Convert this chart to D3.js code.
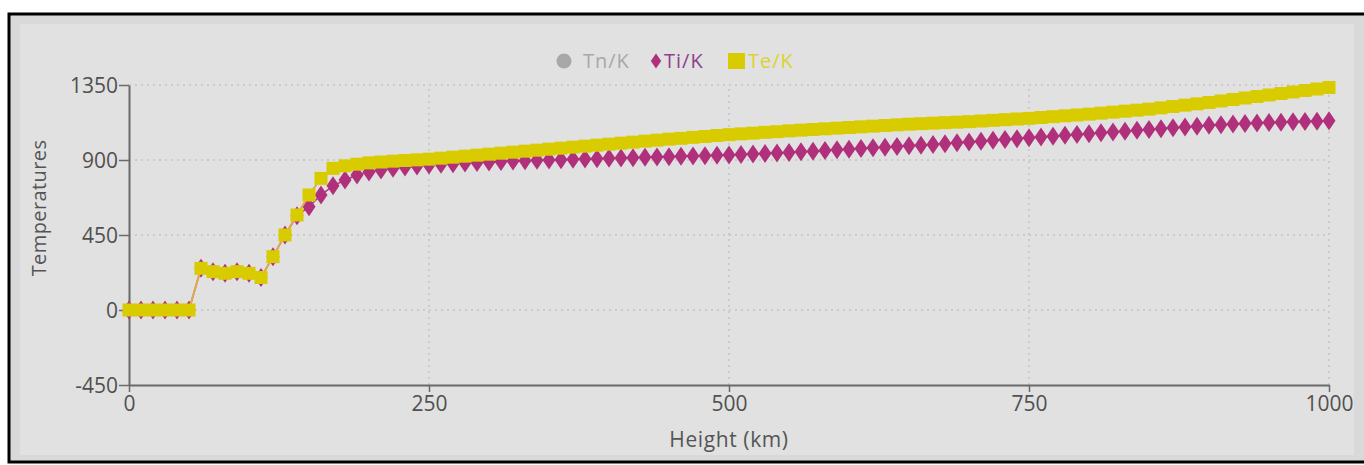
<!DOCTYPE html>
<html>
<head>
<meta charset="utf-8">
<script src="https://cdn.jsdelivr.net/npm/d3@7"></script>
<style>
  html, body { margin: 0; padding: 0; background: #fff; }
  svg { display: block; font-family: "Open Sans", "Noto Sans", sans-serif; }
  .tick text { fill: #505050; font-size: 21px; }
  .grid line { stroke: #b5b5b5; stroke-dasharray: 2,4; }
</style>
</head>
<body>
<svg id="chart" width="1364" height="465"></svg>
<script>
const heights = [0, 10, 20, 30, 40, 50, 60, 70, 80, 90, 100, 110, 120, 130, 140, 150, 160, 170, 180, 190,
  200, 210, 220, 230, 240, 250, 260, 270, 280, 290, 300, 310, 320, 330, 340, 350, 360, 370, 380, 390,
  400, 410, 420, 430, 440, 450, 460, 470, 480, 490, 500, 510, 520, 530, 540, 550, 560, 570, 580, 590,
  600, 610, 620, 630, 640, 650, 660, 670, 680, 690, 700, 710, 720, 730, 740, 750, 760, 770, 780, 790,
  800, 810, 820, 830, 840, 850, 860, 870, 880, 890, 900, 910, 920, 930, 940, 950, 960, 970, 980, 990, 1000];

const teValues = [0, 0, 0, 0, 0, 0, 250, 230, 220, 230, 220, 195, 320, 450, 570, 690, 790, 850, 865, 875,
  883, 888, 893, 897, 901, 905, 911, 917, 923, 929, 935, 941, 947, 953, 959, 965, 971, 977, 983, 989,
  995, 1001, 1007, 1013, 1019, 1025, 1030, 1036, 1041, 1047, 1052, 1057, 1061, 1066, 1070, 1075, 1079, 1083, 1087, 1091,
  1095, 1099, 1103, 1107, 1111, 1115, 1118, 1121, 1124, 1127, 1130, 1134, 1138, 1142, 1146, 1150, 1155, 1160, 1165, 1170,
  1175, 1181, 1187, 1193, 1199, 1205, 1213, 1221, 1229, 1237, 1245, 1254, 1263, 1272, 1281, 1290, 1299, 1308, 1317, 1326, 1335];

const tiValues = [0, 0, 0, 0, 0, 0, 250, 230, 220, 230, 220, 195, 320, 450, 565, 620, 690, 745, 780, 810,
  828, 840, 851, 858, 864, 870, 874, 878, 882, 885, 888, 891, 894, 896, 898, 900, 902, 904, 906, 908,
  910, 912, 914, 916, 918, 920, 922, 924, 926, 928, 930, 933, 936, 939, 942, 945, 949, 953, 957, 961,
  965, 969, 973, 977, 981, 985, 989, 993, 998, 1003, 1008, 1013, 1018, 1023, 1028, 1033, 1038, 1043, 1048, 1053,
  1058, 1063, 1068, 1073, 1078, 1083, 1088, 1093, 1098, 1103, 1108, 1112, 1116, 1119, 1122, 1125, 1127, 1129, 1131, 1133, 1135];

const xTicks = [0, 250, 500, 750, 1000];
const yTicks = [-450, 0, 450, 900, 1350];
const legendItems = ["Tn/K", "Ti/K", "Te/K"];

const colors = {
  tn: "#a8a8a8",
  ti: "#b0307c",
  tiText: "#8e3f8e",
  te: "#d8cc00",
  teText: "#dcd22e",
  teLine: "#e2a94a"
};

const svg = d3.select("#chart");

// frame (right edge runs off the picture, like the screenshot)
svg.append("rect")
  .attr("x", 9).attr("y", 14)
  .attr("width", 1370).attr("height", 448)
  .attr("fill", "#d9d9d9")
  .attr("stroke", "#000").attr("stroke-width", 3);

svg.append("rect")
  .attr("x", 20).attr("y", 24)
  .attr("width", 1334).attr("height", 431)
  .attr("fill", "#e1e1e1");

const x = d3.scaleLinear().domain([0, 1000]).range([129, 1329]);
const y = d3.scaleLinear().domain([-450, 1350]).range([385, 85]);

// grid
const grid = svg.append("g").attr("class", "grid");
grid.selectAll("line.h")
  .data(yTicks.filter(d => d !== -450))
  .join("line")
  .attr("x1", x(0)).attr("x2", x(1000))
  .attr("y1", d => y(d)).attr("y2", d => y(d));
grid.selectAll("line.v")
  .data(xTicks.filter(d => d !== 0))
  .join("line")
  .attr("y1", y(-450)).attr("y2", y(1350))
  .attr("x1", d => x(d)).attr("x2", d => x(d));

// axes
const yAxis = svg.append("g")
  .attr("transform", `translate(${x(0)},0)`)
  .call(d3.axisLeft(y).tickValues(yTicks).tickFormat(d => String(d)).tickSize(10).tickSizeOuter(0));
const xAxis = svg.append("g")
  .attr("transform", `translate(0,${y(-450)})`)
  .call(d3.axisBottom(x).tickValues(xTicks).tickFormat(d => String(d)).tickSize(7).tickSizeOuter(0));

[xAxis, yAxis].forEach(axis => {
  axis.attr("font-family", null).attr("font-size", null);
  axis.select(".domain").attr("stroke", "#6a6a6a").attr("stroke-width", 2);
  axis.selectAll(".tick line").attr("stroke", "#6a6a6a").attr("stroke-width", 1.5);
});
yAxis.selectAll(".tick text").attr("x", -11).attr("dy", "0.34em");
xAxis.selectAll(".tick text").attr("y", 11);

svg.append("text")
  .attr("transform", `translate(46,208) rotate(-90)`)
  .attr("text-anchor", "middle")
  .attr("fill", "#555")
  .attr("font-size", 20)
  .attr("letter-spacing", 0.4)
  .text("Temperatures");

svg.append("text")
  .attr("x", 729).attr("y", 447)
  .attr("text-anchor", "middle")
  .attr("fill", "#555")
  .attr("font-size", 21)
  .attr("letter-spacing", 0.6)
  .text("Height (km)");

const tiData = heights.map((h, i) => ({ h, v: tiValues[i] }));
const teData = heights.map((h, i) => ({ h, v: teValues[i] }));

const line = d3.line().x(d => x(d.h)).y(d => y(d.v));
const diamond = "M0,-9.5L6.5,0L0,9.5L-6.5,0Z";

// Ti series
svg.append("path")
  .datum(tiData)
  .attr("d", line)
  .attr("fill", "none")
  .attr("stroke", colors.ti)
  .attr("stroke-width", 1.5);

svg.append("g")
  .selectAll("path")
  .data(tiData)
  .join("path")
  .attr("d", diamond)
  .attr("transform", d => `translate(${x(d.h)},${y(d.v)})`)
  .attr("fill", colors.ti);

// Te series
svg.append("path")
  .datum(teData)
  .attr("d", line)
  .attr("fill", "none")
  .attr("stroke", colors.teLine)
  .attr("stroke-width", 2);

svg.append("g")
  .selectAll("rect")
  .data(teData)
  .join("rect")
  .attr("x", d => x(d.h) - 6.5)
  .attr("y", d => y(d.v) - 6.5)
  .attr("width", 13).attr("height", 13)
  .attr("fill", colors.te);

// legend
const legend = svg.append("g").attr("font-size", 20).attr("letter-spacing", 1);
legend.append("circle").attr("cx", 564).attr("cy", 61).attr("r", 7.5).attr("fill", colors.tn);
legend.append("text").attr("x", 583).attr("y", 68).attr("fill", colors.tn).text(legendItems[0]);
legend.append("path").attr("d", diamond).attr("transform", "translate(656,61) scale(0.8)").attr("fill", colors.ti);
legend.append("text").attr("x", 664).attr("y", 68).attr("fill", colors.tiText).text(legendItems[1]);
legend.append("rect").attr("x", 728).attr("y", 53).attr("width", 17).attr("height", 16).attr("fill", colors.te);
legend.append("text").attr("x", 748).attr("y", 68).attr("fill", colors.teText).text(legendItems[2]);
</script>
</body>
</html>
